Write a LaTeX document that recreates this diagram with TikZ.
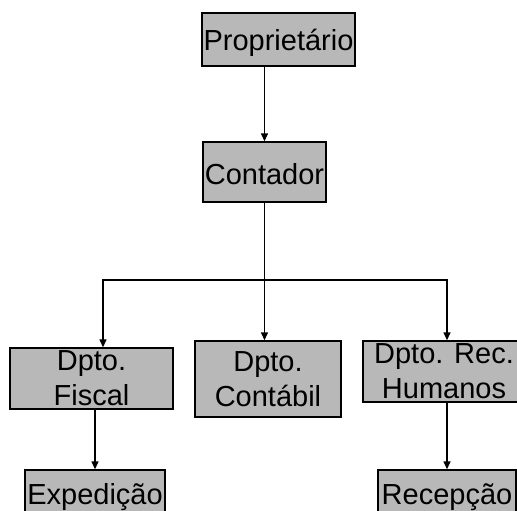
\documentclass[tikz,border=0pt]{standalone}
\usepackage{fontspec}
\setmainfont{Liberation Sans}
\usepackage{tikz}
\usetikzlibrary{arrows.meta}

\begin{document}
\begin{tikzpicture}[x=1pt, y=-1pt, box/.style={rectangle, draw, line width=1.4pt, fill=black!28, inner sep=0pt, align=center, font=\fontsize{29}{35}\selectfont}, arrow/.style={->, >={Triangle[length=8pt, width=7pt]}, line width=1.4pt}]
\useasboundingbox (0,0) rectangle (517,511);
\clip (0,0) rectangle (517,511);
\node[box, minimum width=153pt, minimum height=53pt, text height=29pt] (prop) at (278.5,39.5) {Propriet\'ario};
\node[box, minimum width=123pt, minimum height=60pt, text height=26pt] (cont) at (264.5,172) {Contador};
\node[box, minimum width=163pt, minimum height=61pt] (fiscal) at (91.5,378.5) {Dpto.\\Fiscal};
\node[box, minimum width=146pt, minimum height=76pt] (contab) at (268,379) {Dpto.\\Cont\'abil};
\node[box, minimum width=162pt, minimum height=61pt] (rech) at (444,371.5) {Dpto. Rec.\\Humanos};
\node[box, minimum width=140pt, minimum height=54pt] (exped) at (95,497) {Expedi\c{c}\~ao};
\node[box, minimum width=138pt, minimum height=54pt] (recep) at (447,497) {Recep\c{c}\~ao};
\coordinate (bus) at (264.5,280);
\draw[arrow] (prop.south -| cont.north) -- (cont.north);
\draw[line width=1.4pt] (cont.south) -- (bus);
\draw[arrow] (bus) -| ([xshift=11.5pt]fiscal.north);
\draw[arrow] (bus) -- (bus |- contab.north);
\draw[arrow] (bus) -| ([xshift=3pt]rech.north);
\draw[arrow] (fiscal.south -| exped.north) -- (exped.north);
\draw[arrow] (rech.south -| recep.north) -- (recep.north);
\end{tikzpicture}
\end{document}
